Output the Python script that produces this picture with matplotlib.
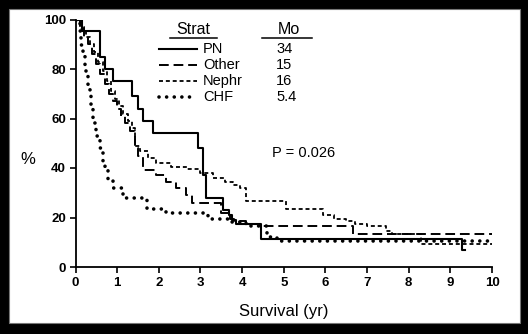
import matplotlib
matplotlib.use("Agg")
import matplotlib.pyplot as plt
from matplotlib.patches import Rectangle

plt.rcParams['font.family'] = ['Liberation Sans', 'DejaVu Sans']

# survival curves (years, %)
pn_t = [0, 0.15, 0.6, 0.72, 0.9, 1.35, 1.5, 1.62, 1.85, 2.95, 3.05, 3.13, 3.55, 3.68, 3.75, 3.85, 4.45, 9.28, 9.35]
pn_s = [100, 95.5, 85, 80, 75, 69, 64, 59, 54, 48, 37, 28, 23, 21, 19, 17.5, 11.5, 7, 7]

oth_t = [0, 0.1, 0.2, 0.3, 0.4, 0.5, 0.6, 0.7, 0.8, 0.9, 1.0, 1.1, 1.2, 1.3, 1.42, 1.5, 1.63, 1.94, 2.18, 2.42,
         2.66, 2.8, 3.5, 3.7, 3.8, 4.1, 4.43, 6.66, 10]
oth_s = [100, 97, 93, 90, 86, 82, 78, 74, 70, 67, 64, 61, 58, 55, 48, 45, 39, 37, 34.5, 32,
         29, 26, 22, 19.5, 18.5, 17.5, 16.6, 13.3, 13.3]

neph_t = [0, 0.12, 0.25, 0.35, 0.45, 0.55, 0.65, 0.75, 0.85, 0.95, 1.05, 1.15, 1.25, 1.35, 1.42, 1.54, 1.75,
          1.94, 2.3, 2.67, 3.0, 3.3, 3.6, 3.78, 3.94, 4.1, 5.06, 5.95, 6.2, 6.5, 6.7, 7.0, 7.46, 7.6, 8.3, 10]
neph_s = [100, 96, 93, 90, 87, 83, 79, 75, 71, 68, 65, 62, 59, 56, 49, 47, 44,
          42, 40.5, 39.4, 38, 36, 34.5, 33, 32, 26.5, 23.3, 21, 19.5, 18.6, 17.3, 16.6, 14.6, 13.5, 9.3, 9.3]

chf_t = [0, 0.1, 0.14, 0.18, 0.22, 0.26, 0.3, 0.35, 0.38, 0.42, 0.5, 0.58, 0.66, 0.72, 0.78, 0.9,
         1.14, 1.71, 2.18, 3.17, 3.72, 4.1, 4.6, 4.83, 10]
chf_s = [100, 95.5, 89.5, 85.5, 81, 77, 73, 69, 64, 58, 53, 48, 43, 39, 35.5, 32,
         28, 23.3, 22, 19.5, 18, 16.5, 12, 10.6, 10.6]

groups = ["PN", "Other", "Nephr", "CHF"]
medians = ["34", "15", "16", "5.4"]
styles = ["-", (0, (5, 2.5)), (0, (2.2, 1.6)), (0, (0.01, 2.1))]
widths = [1.5, 1.4, 1.3, 2.6]

fig = plt.figure(figsize=(5.28, 3.34), dpi=100, facecolor="black")
fig.add_artist(Rectangle((9 / 528, 11 / 334), 511 / 528, 314 / 334, transform=fig.transFigure,
                         facecolor="white", edgecolor="#777777", lw=0.8, zorder=-5))

W, H = 528, 334
ax = fig.add_axes([75.5 / W, (H - 267) / H, (492 - 75.5) / W, (267 - 19.5) / H])
ax.patch.set_alpha(0)

curves = [(pn_t, pn_s), (oth_t, oth_s), (neph_t, neph_s), (chf_t, chf_s)]
for (t, s), ls, lw in zip(curves, styles, widths):
    ax.step(t, s, where="post", color="black", linestyle=ls, linewidth=lw,
            dash_capstyle="round" if lw > 2 else "butt")

ax.set_xlim(0, 10)
ax.set_ylim(0, 100)
ax.set_xticks(range(0, 11))
ax.set_yticks(range(0, 101, 20))
for side in ["top", "right"]:
    ax.spines[side].set_visible(False)
for side in ["left", "bottom"]:
    ax.spines[side].set_linewidth(1.3)
ax.tick_params(direction="out", length=4, width=1.2, labelsize=9.5, pad=3)
for lab in ax.get_xticklabels() + ax.get_yticklabels():
    lab.set_fontweight("bold")

ax.set_xlabel("Survival (yr)", fontsize=12, labelpad=11)
fig.text(28 / W, 1 - 160 / H, "%", fontsize=12, ha="center", va="center")

# legend table drawn in pixel positions
def fx(px):
    return px / W

def fy(py):
    return 1 - py / H

fig.text(fx(193), fy(30), "Strat", fontsize=11.5, ha="center", va="center")
fig.text(fx(289), fy(30), "Mo", fontsize=11.5, ha="center", va="center")
fig.add_artist(plt.Line2D([fx(170), fx(217)], [fy(38), fy(38)], color="black", lw=1.1))
fig.add_artist(plt.Line2D([fx(262), fx(312)], [fy(38), fy(38)], color="black", lw=1.1))
rows = [49, 65, 81, 97]
for g, m, ls, lw, ry in zip(groups, medians, styles, widths, rows):
    fig.add_artist(plt.Line2D([fx(159), fx(197)], [fy(ry), fy(ry)], color="black", linestyle=ls,
                              lw=lw, dash_capstyle="round" if lw > 2 else "butt"))
    fig.text(fx(203), fy(ry), g, fontsize=10.5, ha="left", va="center")
    fig.text(fx(276), fy(ry), m, fontsize=10.5, ha="left", va="center")

fig.text(fx(272), fy(153), "P = 0.026", fontsize=10.5, ha="left", va="center")

fig.savefig("out.png", dpi=100, facecolor="black")
